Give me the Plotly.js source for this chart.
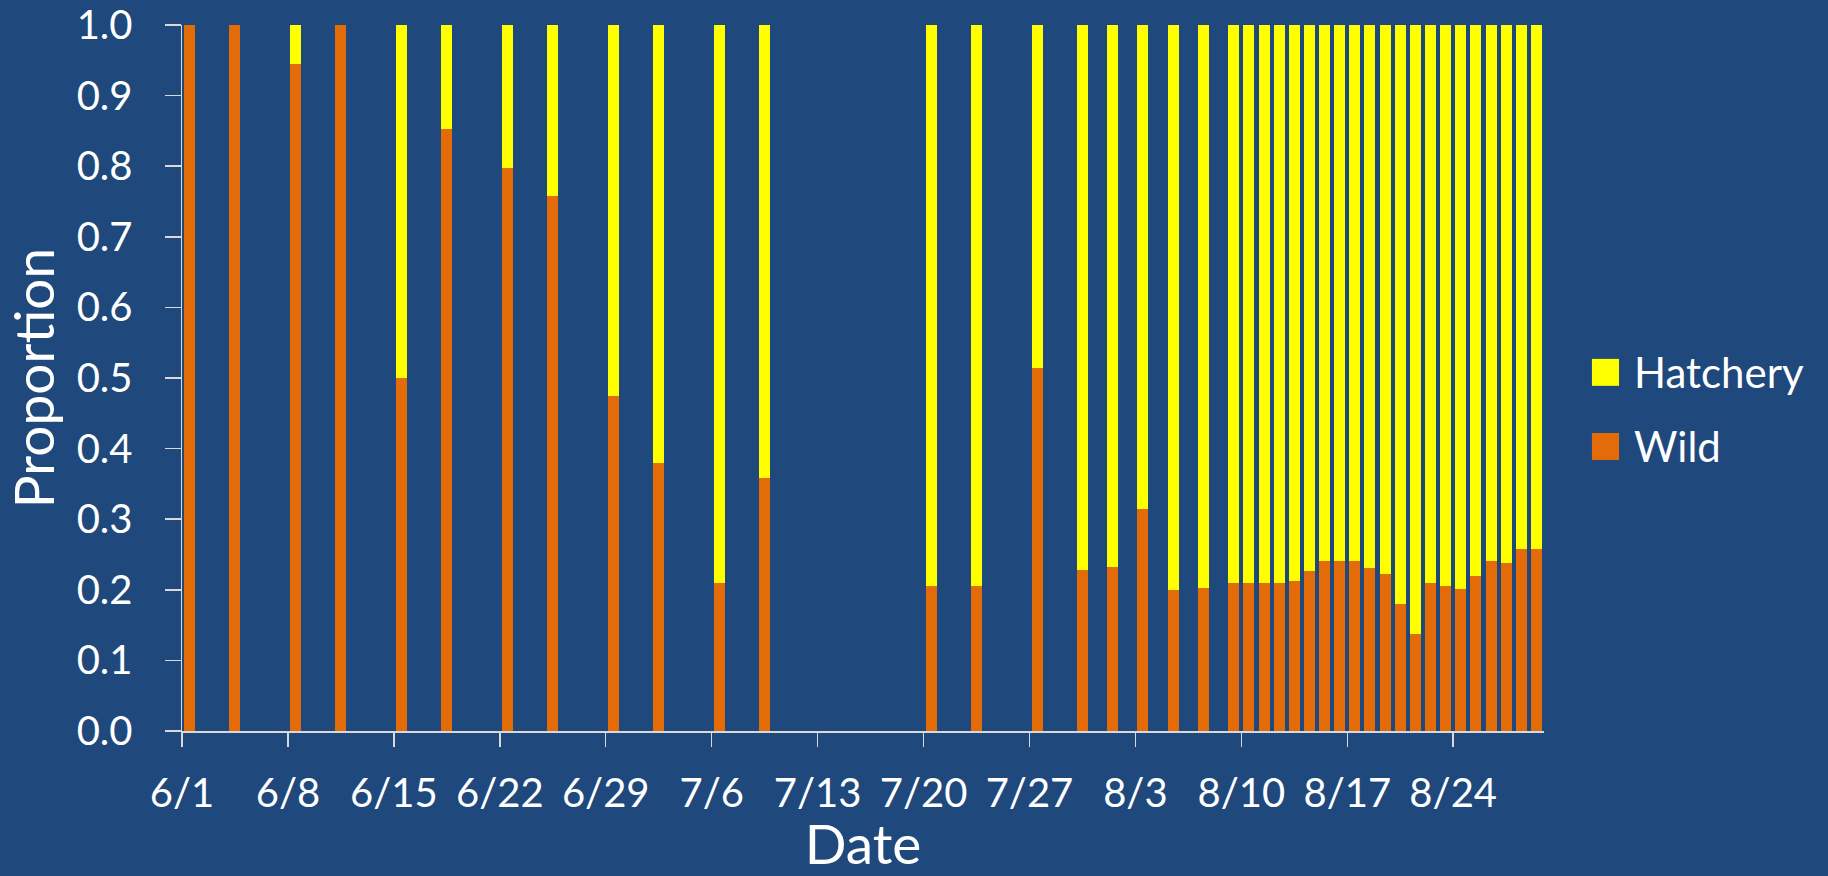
<!DOCTYPE html>
<html>
<head>
<meta charset="utf-8">
<script src="https://cdn.plot.ly/plotly-3.0.1.min.js"></script>
<style>
  html, body { margin: 0; padding: 0; background: #1F497D; }
  #chart { width: 1828px; height: 876px; }
</style>
</head>
<body>
<div id="chart"></div>
<script>
// Sampling dates (one bar per sampled day)
const dates = [
  '2023-06-01', '2023-06-04', '2023-06-08', '2023-06-11', '2023-06-15', '2023-06-18',
  '2023-06-22', '2023-06-25', '2023-06-29', '2023-07-02', '2023-07-06', '2023-07-09',
  '2023-07-20', '2023-07-23', '2023-07-27', '2023-07-30', '2023-08-01', '2023-08-03',
  '2023-08-05', '2023-08-07', '2023-08-09', '2023-08-10', '2023-08-11', '2023-08-12',
  '2023-08-13', '2023-08-14', '2023-08-15', '2023-08-16', '2023-08-17', '2023-08-18',
  '2023-08-19', '2023-08-20', '2023-08-21', '2023-08-22', '2023-08-23', '2023-08-24',
  '2023-08-25', '2023-08-26', '2023-08-27', '2023-08-28', '2023-08-29'
];

// Proportion of wild fish per sample
const wild = [
  1.000, 1.000, 0.945, 1.000, 0.500, 0.853,
  0.797, 0.758, 0.474, 0.380, 0.209, 0.358,
  0.205, 0.205, 0.514, 0.228, 0.233, 0.314,
  0.200, 0.203, 0.209, 0.209, 0.209, 0.209,
  0.212, 0.226, 0.241, 0.241, 0.241, 0.231,
  0.222, 0.180, 0.138, 0.209, 0.205, 0.201,
  0.220, 0.241, 0.238, 0.258, 0.258
];

// Proportion of hatchery fish per sample
const hatchery = [
  0.000, 0.000, 0.055, 0.000, 0.500, 0.147,
  0.203, 0.242, 0.526, 0.620, 0.791, 0.642,
  0.795, 0.795, 0.486, 0.772, 0.767, 0.686,
  0.800, 0.797, 0.791, 0.791, 0.791, 0.791,
  0.788, 0.774, 0.759, 0.759, 0.759, 0.769,
  0.778, 0.820, 0.862, 0.791, 0.795, 0.799,
  0.780, 0.759, 0.762, 0.742, 0.742
];

const seriesNames = ['Wild', 'Hatchery'];
const seriesColors = ['#E36C09', '#FFFF00'];

const DAY = 86400000;
const FONT = 'Lato, "Open Sans", sans-serif';
const TEXT = '#FFFFFF';
const AXIS = '#D9D9D9';

const barCommon = {
  type: 'bar',
  x: dates,
  xperiod: DAY,
  xperiodalignment: 'middle',
  width: 0.73 * DAY,
  hoverinfo: 'x+y+name',
  showlegend: false
};

const traces = [
  Object.assign({}, barCommon, {
    name: seriesNames[0], y: wild,
    marker: { color: seriesColors[0], line: { width: 0 } }
  }),
  Object.assign({}, barCommon, {
    name: seriesNames[1], y: hatchery,
    marker: { color: seriesColors[1], line: { width: 0 } }
  })
];

// Legend drawn as swatches + labels to the right of the plot (Hatchery above Wild)
const legendRows = [
  { name: seriesNames[1], color: seriesColors[1], y: 0.508 },
  { name: seriesNames[0], color: seriesColors[0], y: 0.403 }
];
const shapes = [];
const annotations = [];
legendRows.forEach(r => {
  shapes.push({
    type: 'rect', xref: 'paper', yref: 'paper',
    x0: 1.0352, x1: 1.0551, y0: r.y - 0.0191, y1: r.y + 0.0191,
    fillcolor: r.color, line: { width: 0 }
  });
  annotations.push({
    xref: 'paper', yref: 'paper', x: 1.0645, y: r.y,
    xanchor: 'left', yanchor: 'middle', showarrow: false,
    text: r.name, font: { family: FONT, size: 42, color: TEXT }
  });
});

const layout = {
  width: 1828,
  height: 876,
  paper_bgcolor: '#1F497D',
  plot_bgcolor: '#1F497D',
  margin: { l: 182, r: 284, t: 25, b: 145 },
  barmode: 'stack',
  bargap: 0,
  showlegend: false,
  font: { family: FONT, color: TEXT },
  xaxis: {
    type: 'date',
    range: ['2023-06-01', '2023-08-30'],
    tick0: '2023-06-01',
    dtick: 7 * DAY,
    tickformat: '%-m/%-d',
    ticks: 'outside',
    ticklen: 14,
    tickwidth: 1.5,
    tickcolor: AXIS,
    ticklabelstandoff: 12,
    showline: true,
    linecolor: AXIS,
    linewidth: 1.5,
    showgrid: false,
    zeroline: false,
    tickfont: { family: FONT, size: 40, color: TEXT },
    title: { text: 'Date', font: { family: FONT, size: 55, color: TEXT }, standoff: 36 }
  },
  yaxis: {
    range: [0, 1],
    dtick: 0.1,
    tickformat: '.1f',
    ticks: 'outside',
    ticklen: 16,
    tickwidth: 1.5,
    tickcolor: AXIS,
    ticklabelstandoff: 24,
    showline: true,
    linecolor: AXIS,
    linewidth: 1.5,
    showgrid: false,
    zeroline: false,
    tickfont: { family: FONT, size: 40, color: TEXT },
    title: { text: 'Proportion', font: { family: FONT, size: 55, color: TEXT }, standoff: 10 }
  },
  shapes: shapes,
  annotations: annotations
};

Plotly.newPlot('chart', traces, layout, { displayModeBar: false, staticPlot: true });
</script>
</body>
</html>
